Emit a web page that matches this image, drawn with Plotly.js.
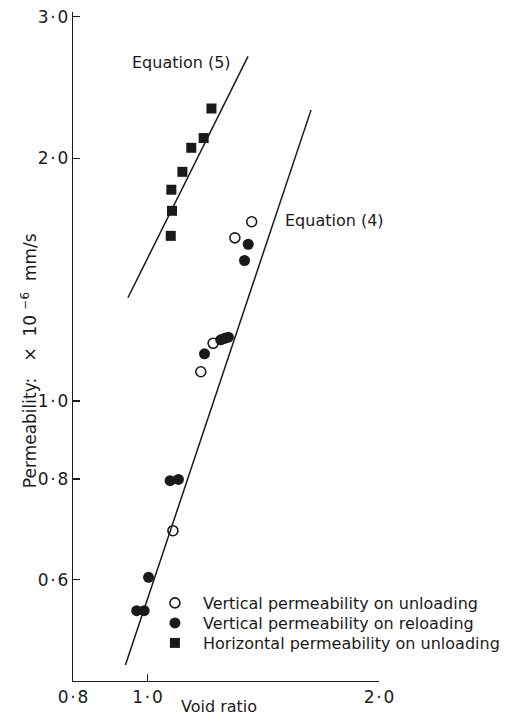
<!DOCTYPE html>
<html>
<head>
<meta charset="utf-8">
<script src="https://cdn.plot.ly/plotly-3.0.1.min.js"></script>
<style>
  html, body { margin: 0; padding: 0; background: #fff; }
  #chart { width: 517px; height: 719px; }
</style>
</head>
<body>
<div id="chart"></div>
<script>
// Void ratio (x) against permeability in units of 1e-6 mm/s (y)
const vertUnloadE = [1.366, 1.299, 1.217, 1.173, 1.079];
const vertUnloadK = [1.669, 1.594, 1.179, 1.087, 0.690];

const vertReloadE = [1.352, 1.337, 1.274, 1.260, 1.245, 1.186, 1.097, 1.070, 1.003, 0.990, 0.968];
const vertReloadK = [1.565, 1.494, 1.200, 1.196, 1.191, 1.144, 0.799, 0.796, 0.604, 0.549, 0.549];

const horizUnloadE = [1.211, 1.183, 1.140, 1.110, 1.074, 1.076, 1.072];
const horizUnloadK = [2.307, 2.120, 2.062, 1.925, 1.829, 1.722, 1.603];

// Fitted relations, each given by its two end points
const eq4E = [0.936, 1.632];
const eq4K = [0.470, 2.298];
const eq5E = [0.943, 1.351];
const eq5K = [1.343, 2.678];

const seriesNames = [
  'Vertical permeability on unloading',
  'Vertical permeability on reloading',
  'Horizontal permeability on unloading'
];
const lineLabels = ['Equation (4)', 'Equation (5)'];

// tick labels use a raised decimal point with hair spaces around it
const HS = '\u200A';
const yTickVals = [0.6, 0.8, 1.0, 2.0, 3.0];
const yTickText = ['0' + HS + '·' + HS + '6', '0' + HS + '·' + HS + '8', '1' + HS + '·' + HS + '0',
                   '2' + HS + '·' + HS + '0', '3' + HS + '·' + HS + '0'];
const xTickVals = [0.8, 1.0, 2.0];
const xTickText = ['0' + HS + '·' + HS + '8', '1' + HS + '·' + HS + '0', '2' + HS + '·' + HS + '0'];

const NB = '\u00A0';
const yTitle = 'Permeability:' + NB.repeat(3) + '×' + NB.repeat(2) + '10' + NB +
               '<sup>−6</sup>' + NB.repeat(2) + 'mm/s';

const INK = '#1a1a1a';
const FONT = 'DejaVu Sans, Liberation Sans, Arial, sans-serif';

const traces = [
  { x: eq4E, y: eq4K, mode: 'lines', line: { color: INK, width: 1.5 },
    showlegend: false, hoverinfo: 'skip' },
  { x: eq5E, y: eq5K, mode: 'lines', line: { color: INK, width: 1.5 },
    showlegend: false, hoverinfo: 'skip' },
  { x: vertUnloadE, y: vertUnloadK, mode: 'markers', name: seriesNames[0],
    legend: 'legend',
    marker: { symbol: 'circle-open', size: 10, color: INK, line: { width: 1.6, color: INK } } },
  { x: vertReloadE, y: vertReloadK, mode: 'markers', name: seriesNames[1],
    legend: 'legend2',
    marker: { symbol: 'circle', size: 11, color: INK } },
  { x: horizUnloadE, y: horizUnloadK, mode: 'markers', name: seriesNames[2],
    legend: 'legend3',
    marker: { symbol: 'square', size: 10, color: INK } }
];

const legendBase = {
  xanchor: 'left', yanchor: 'middle', x: 0.2416,
  bgcolor: 'rgba(0,0,0,0)', borderwidth: 0,
  itemwidth: 46,
  font: { family: FONT, size: 16, color: INK }
};

const layout = {
  width: 517, height: 719,
  margin: { l: 73, r: 88, t: 12, b: 38, pad: 0 },
  paper_bgcolor: '#fff', plot_bgcolor: '#fff',
  font: { family: FONT, color: INK },
  xaxis: {
    type: 'log',
    range: [Math.log10(0.8), Math.log10(2.0)],
    tickvals: xTickVals, ticktext: xTickText,
    ticks: 'inside', ticklen: 7, tickwidth: 1.2, tickcolor: INK,
    showline: true, linecolor: INK, linewidth: 1.3,
    showgrid: false, zeroline: false,
    tickfont: { family: FONT, size: 17, color: INK }
  },
  yaxis: {
    type: 'log',
    range: [Math.log10(0.449), Math.log10(3.04)],
    tickvals: yTickVals, ticktext: yTickText,
    ticks: 'inside', ticklen: 7, tickwidth: 1.2, tickcolor: INK,
    showline: true, linecolor: INK, linewidth: 1.3,
    showgrid: false, zeroline: false,
    tickfont: { family: FONT, size: 17, color: INK }
  },
  legend: Object.assign({}, legendBase, { y: 0.1166 }),
  legend2: Object.assign({}, legendBase, { y: 0.0867 }),
  legend3: Object.assign({}, legendBase, { y: 0.0568 }),
  annotations: [
    { text: lineLabels[1], xref: 'paper', yref: 'paper', x: 0.354, y: 0.9238,
      showarrow: false, xanchor: 'center', yanchor: 'middle',
      font: { family: FONT, size: 16, color: INK } },
    { text: lineLabels[0], xref: 'paper', yref: 'paper', x: 0.854, y: 0.689,
      showarrow: false, xanchor: 'center', yanchor: 'middle',
      font: { family: FONT, size: 16, color: INK } },
    { text: 'Void ratio', xref: 'paper', yref: 'paper', x: 0.4775, y: -0.0374,
      showarrow: false, xanchor: 'center', yanchor: 'middle',
      font: { family: FONT, size: 16, color: INK } },
    { text: yTitle, xref: 'paper', yref: 'paper',
      x: -0.1433, y: 0.4783, textangle: -90,
      showarrow: false, xanchor: 'center', yanchor: 'middle',
      font: { family: FONT, size: 17, color: INK } }
  ],
  showlegend: true
};

Plotly.newPlot('chart', traces, layout, { displayModeBar: false, staticPlot: true });
</script>
</body>
</html>
